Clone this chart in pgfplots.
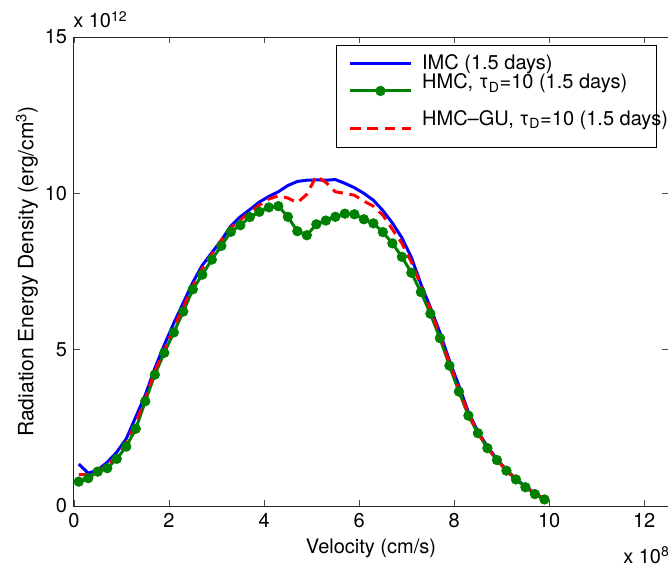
\documentclass[border=0pt]{standalone}
\usepackage{fontspec}
\setmainfont{TeX Gyre Heros}
\usepackage{pgfplots}
\usepackage{pgfplotstable}
\pgfplotsset{compat=1.18}
\definecolor{mblue}{RGB}{0,0,255}
\definecolor{mgreen}{RGB}{0,128,0}
\definecolor{mred}{RGB}{255,0,0}
\pgfplotsset{
  legA/.style={legend image code/.code={\draw[##1] (0pt,0pt) -- (45.75pt,0pt);}},
  legB/.style={legend image code/.code={\path (0pt,-14pt);\draw[mark repeat=2,mark phase=2,##1] plot coordinates {(0pt,-6pt) (22.875pt,-6pt) (45.75pt,-6pt)};}},
  legC/.style={legend image code/.code={\path (0pt,14.1pt) (0pt,-15pt);\draw[##1] (0pt,-6.5pt) -- (45.75pt,-6.5pt);}},
}

\pgfplotstableread{
x y
0.1 1.34
0.3 1.05
0.5 1.15
0.7 1.40
0.9 1.72
1.1 2.15
1.3 2.85
1.5 3.55
1.7 4.40
1.9 5.15
2.1 5.85
2.3 6.50
2.5 7.15
2.7 7.70
2.9 8.10
3.1 8.50
3.3 8.95
3.5 9.25
3.7 9.48
3.9 9.72
4.1 9.90
4.3 10.05
4.5 10.25
4.7 10.38
4.9 10.42
5.1 10.43
5.3 10.42
5.5 10.44
5.7 10.32
5.9 10.18
6.1 10.00
6.3 9.78
6.5 9.45
6.7 9.05
6.9 8.58
7.1 7.95
7.3 7.10
7.5 6.35
7.7 5.55
7.9 4.65
8.1 3.85
8.3 3.00
8.5 2.38
8.7 1.90
8.9 1.50
9.1 1.15
9.3 0.87
9.5 0.62
9.7 0.41
9.9 0.22
}\imc

\pgfplotstableread{
x y
0.1 0.78
0.3 0.89
0.5 1.10
0.7 1.21
0.9 1.51
1.1 1.90
1.3 2.47
1.5 3.35
1.7 4.20
1.9 4.90
2.1 5.55
2.3 6.22
2.5 6.93
2.7 7.40
2.9 7.88
3.1 8.32
3.3 8.77
3.5 8.98
3.7 9.24
3.9 9.41
4.1 9.55
4.3 9.59
4.5 9.25
4.7 8.79
4.9 8.66
5.1 9.01
5.3 9.13
5.5 9.25
5.7 9.35
5.9 9.33
6.1 9.17
6.3 9.04
6.5 8.76
6.7 8.40
6.9 7.97
7.1 7.46
7.3 6.84
7.5 6.15
7.7 5.37
7.9 4.49
8.1 3.66
8.3 2.89
8.5 2.33
8.7 1.85
8.9 1.47
9.1 1.13
9.3 0.85
9.5 0.60
9.7 0.38
9.9 0.21
}\hmc

\pgfplotstableread{
x y
0.1 1.00
0.3 1.00
0.5 1.12
0.7 1.30
0.9 1.62
1.1 2.02
1.3 2.65
1.5 3.45
1.7 4.30
1.9 5.00
2.1 5.70
2.3 6.35
2.5 7.05
2.7 7.60
2.9 8.05
3.1 8.50
3.3 8.90
3.5 9.15
3.7 9.40
3.9 9.62
4.1 9.82
4.3 9.92
4.5 9.85
4.7 9.70
4.9 9.97
5.1 10.55
5.3 10.35
5.5 10.05
5.7 10.00
5.9 9.94
6.1 9.75
6.3 9.59
6.5 9.30
6.7 8.85
6.9 8.40
7.1 7.80
7.3 7.05
7.5 6.30
7.7 5.45
7.9 4.58
8.1 3.75
8.3 2.95
8.5 2.36
8.7 1.87
8.9 1.48
9.1 1.14
9.3 0.86
9.5 0.61
9.7 0.40
9.9 0.21
}\hmcgu

\begin{document}
\fontsize{15}{18}\selectfont
\begin{tikzpicture}
\begin{axis}[
  name=ax,
  at={(0,0)}, anchor=south west,
  scale only axis, width=445.5pt, height=351.75pt,
  xmin=0, xmax=12.5, ymin=0, ymax=15,
  xtick={0,2,4,6,8,10,12}, ytick={0,5,10,15},
  tick align=inside, major tick length=4.5pt,
  tick style={line width=0.6pt, black!70},
  axis line style={line width=0.75pt, black!85},
  /pgf/number format/assume math mode=true,
  scaled ticks=false,
  font=\fontsize{15}{18}\selectfont,
  xlabel={Velocity (cm/s)},
  ylabel={Radiation Energy Density (erg/cm\textsuperscript{3})},
  xlabel style={at={(axis description cs:0.5,-0.0896)}, anchor=center},
  ylabel style={at={(axis description cs:-0.0791,0.5)}, anchor=center, font=\fontsize{15.8}{18}\selectfont},
  legend style={at={(axis description cs:0.4411,0.9829)}, anchor=north west,
    draw=black, line width=0.75pt, fill=white,
    inner xsep=9pt, inner ysep=4.9pt, row sep=-3pt, column sep=5.25pt,
    font=\fontsize{15}{18}\selectfont},
  legend cell align=left,
]
\addplot[mblue, line width=2.25pt, legA]
  table[x=x,y=y] {\imc};
\addlegendentry{\makebox[165pt][l]{IMC (1.5 days)}}
\addplot[mgreen, line width=2.25pt, mark=*, mark size=3.6pt,
  mark options={fill=mgreen, draw=mgreen, line width=0.5pt}, legB]
  table[x=x,y=y] {\hmc};
\addlegendentry{\makebox[165pt][l]{HMC, τ\textsubscript{D}=10 (1.5 days)}}
\addplot[mred, line width=2.25pt, dash pattern=on 8pt off 5pt, legC]
  table[x=x,y=y] {\hmcgu};
\addlegendentry{\makebox[165pt][l]{HMC--GU, τ\textsubscript{D}=10 (1.5 days)}}
\end{axis}
\node[anchor=base west, inner sep=0pt, font=\fontsize{15}{18}\selectfont] at (-0.75pt,358.5pt) {x 10\textsuperscript{12}};
\node[anchor=base west, inner sep=0pt, font=\fontsize{15}{18}\selectfont] at (411.75pt,-42.75pt) {x 10\textsuperscript{8}};
\pgfresetboundingbox
\path[use as bounding box] (-55.5pt,-47.25pt) rectangle (445.5pt,379.5pt);
\end{tikzpicture}
\end{document}
